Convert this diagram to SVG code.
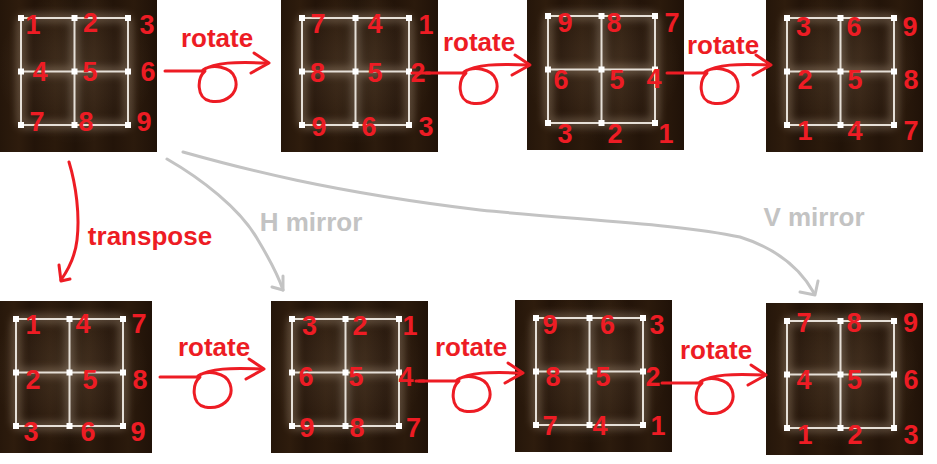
<svg xmlns="http://www.w3.org/2000/svg" xmlns:xlink="http://www.w3.org/1999/xlink" width="937" height="464" viewBox="0 0 937 464">
<style>
.num{font-family:"Liberation Sans",Arial,sans-serif;font-weight:bold;font-size:27px;fill:#ed1c24;text-anchor:middle}
.lbl{font-family:"Liberation Sans",Arial,sans-serif;font-weight:bold;font-size:26px;text-anchor:middle}
.red{fill:#ed1c24}
.gray{fill:#c3c3c3}
.rc{fill:none;stroke:#ed1c24;stroke-width:3;stroke-linecap:round;stroke-linejoin:round}
.gc{fill:none;stroke:#c3c3c3;stroke-width:3;stroke-linecap:round;stroke-linejoin:round}
</style>
<defs>
<linearGradient id="wood" x1="0" y1="0" x2="1" y2="0">
<stop offset="0" stop-color="#25160a"/>
<stop offset="0.12" stop-color="#2e1c0d"/>
<stop offset="0.22" stop-color="#231409"/>
<stop offset="0.35" stop-color="#2a190b"/>
<stop offset="0.48" stop-color="#211308"/>
<stop offset="0.6" stop-color="#2c1b0d"/>
<stop offset="0.72" stop-color="#231409"/>
<stop offset="0.85" stop-color="#2b1a0c"/>
<stop offset="1" stop-color="#201208"/>
</linearGradient>
<radialGradient id="halo" cx="0.48" cy="0.45" r="0.5">
<stop offset="0" stop-color="#ffdcb8" stop-opacity="0.12"/>
<stop offset="0.6" stop-color="#ffdcb8" stop-opacity="0.05"/>
<stop offset="1" stop-color="#ffdcb8" stop-opacity="0"/>
</radialGradient>
<filter id="blur" x="-30%" y="-30%" width="160%" height="160%">
<feGaussianBlur stdDeviation="4"/>
</filter>
<g id="tileArt">
<rect width="157" height="152" fill="url(#wood)"/>
<rect width="157" height="152" fill="url(#halo)"/>
<path d="M21,18H128M21,71.5H128M21,125H128M21,18V125M74.5,18V125M128,18V125" fill="none" stroke="#ffe8cc" stroke-width="7" opacity="0.3" filter="url(#blur)"/>
<path d="M21,18H128M21,71.5H128M21,125H128M21,18V125M74.5,18V125M128,18V125" fill="none" stroke="#e6e0d8" stroke-width="2"/>
<g fill="#ffffff">
<rect x="18" y="15" width="6" height="6"/><rect x="71.5" y="15" width="6" height="6"/><rect x="125" y="15" width="6" height="6"/>
<rect x="18" y="68.5" width="6" height="6"/><rect x="71.5" y="68.5" width="6" height="6"/><rect x="125" y="68.5" width="6" height="6"/>
<rect x="18" y="122" width="6" height="6"/><rect x="71.5" y="122" width="6" height="6"/><rect x="125" y="122" width="6" height="6"/>
</g>
</g>
<g id="rotLoop">
<path class="rc" d="M-105,8 H-65 C-73,15 -74,35 -60,38 C-44,41 -30,30 -35,15 C-39,3 -58,1 -67,7 C-55,-1 -35,-1 -2,0"/>
<path class="rc" d="M-16,-10 L-1,0 L-19,10"/>
</g>
</defs>

<g id="tile-r1">
<use xlink:href="#tileArt" transform="translate(0,0)"/>
<text class="num" x="33" y="34">1</text><text class="num" x="90.5" y="32">2</text><text class="num" x="147" y="34">3</text>
<text class="num" x="40" y="81">4</text><text class="num" x="90" y="81">5</text><text class="num" x="148" y="81">6</text>
<text class="num" x="37" y="131">7</text><text class="num" x="86" y="131">8</text><text class="num" x="144" y="131">9</text>
</g>
<g id="tile-r2">
<use xlink:href="#tileArt" transform="translate(281,0)"/>
<text class="num" x="318" y="33">7</text><text class="num" x="375" y="33">4</text><text class="num" x="426" y="34">1</text>
<text class="num" x="317.5" y="82">8</text><text class="num" x="375" y="82">5</text><text class="num" x="418" y="82">2</text>
<text class="num" x="319" y="136">9</text><text class="num" x="369" y="136">6</text><text class="num" x="426" y="136">3</text>
</g>
<g id="tile-r3">
<use xlink:href="#tileArt" transform="translate(527,-2)"/>
<text class="num" x="565" y="32">9</text><text class="num" x="614" y="32">8</text><text class="num" x="672" y="32">7</text>
<text class="num" x="561" y="89">6</text><text class="num" x="617" y="89">5</text><text class="num" x="654" y="88">4</text>
<text class="num" x="565" y="143">3</text><text class="num" x="615" y="143">2</text><text class="num" x="666" y="143">1</text>
</g>
<g id="tile-r4">
<use xlink:href="#tileArt" transform="translate(766,0)"/>
<text class="num" x="803.5" y="36">3</text><text class="num" x="854" y="36">6</text><text class="num" x="910" y="36">9</text>
<text class="num" x="805" y="89">2</text><text class="num" x="855" y="89">5</text><text class="num" x="911" y="89">8</text>
<text class="num" x="805" y="140">1</text><text class="num" x="855" y="140">4</text><text class="num" x="911" y="140">7</text>
</g>
<g id="tile-t1">
<use xlink:href="#tileArt" transform="translate(-5,301)"/>
<text class="num" x="33" y="334">1</text><text class="num" x="83" y="333">4</text><text class="num" x="139" y="333">7</text>
<text class="num" x="33" y="389">2</text><text class="num" x="90" y="389">5</text><text class="num" x="140" y="389">8</text>
<text class="num" x="31" y="441">3</text><text class="num" x="88" y="441">6</text><text class="num" x="138" y="441">9</text>
</g>
<g id="tile-t2">
<use xlink:href="#tileArt" transform="translate(271,301)"/>
<text class="num" x="309.5" y="335">3</text><text class="num" x="360" y="335">2</text><text class="num" x="410" y="335">1</text>
<text class="num" x="306" y="386">6</text><text class="num" x="356" y="386">5</text><text class="num" x="406" y="386">4</text>
<text class="num" x="307" y="437">9</text><text class="num" x="357" y="437">8</text><text class="num" x="413.5" y="437">7</text>
</g>
<g id="tile-t3">
<use xlink:href="#tileArt" transform="translate(515,300)"/>
<text class="num" x="550" y="334">9</text><text class="num" x="607.5" y="334">6</text><text class="num" x="657" y="334">3</text>
<text class="num" x="553" y="386">8</text><text class="num" x="603" y="386">5</text><text class="num" x="653" y="386">2</text>
<text class="num" x="550" y="435">7</text><text class="num" x="600" y="435">4</text><text class="num" x="658" y="435">1</text>
</g>
<g id="tile-t4">
<use xlink:href="#tileArt" transform="translate(766,303)"/>
<text class="num" x="804" y="332">7</text><text class="num" x="854" y="332">8</text><text class="num" x="910.5" y="332">9</text>
<text class="num" x="804" y="389">4</text><text class="num" x="854.5" y="389">5</text><text class="num" x="911" y="389">6</text>
<text class="num" x="805" y="444">1</text><text class="num" x="855" y="444">2</text><text class="num" x="911" y="444">3</text>
</g>

<g id="connectors">
<use xlink:href="#rotLoop" transform="translate(270,63)"/>
<line class="rc" x1="412" y1="73" x2="430" y2="73"/>
<use xlink:href="#rotLoop" transform="translate(531,65)"/>
<use xlink:href="#rotLoop" transform="translate(772,65)"/>
<use xlink:href="#rotLoop" transform="translate(265,369)"/>
<line class="rc" x1="416" y1="381" x2="424" y2="381"/>
<use xlink:href="#rotLoop" transform="translate(524,373)"/>
<use xlink:href="#rotLoop" transform="translate(767,375)"/>
<path class="rc" d="M69,162 C76,185 80,215 77,240 C75,258 68,270 61,280"/>
<path class="rc" d="M59,265 L61,281 L70,279"/>
<path class="gc" d="M167,159 C200,178 240,208 258,240 C270,260 278,275 283,290"/>
<path class="gc" d="M283,276 L283,290 L272,287"/>
<path class="gc" d="M183,152 C240,168 330,192 480,210 C580,220 680,224 740,237 C775,248 800,268 814,293"/>
<path class="gc" d="M818,281 L815,295 L800,292"/>
<text class="lbl red" x="217" y="47">rotate</text>
<text class="lbl red" x="479" y="51">rotate</text>
<text class="lbl red" x="723" y="54">rotate</text>
<text class="lbl red" x="214" y="356">rotate</text>
<text class="lbl red" x="471" y="356">rotate</text>
<text class="lbl red" x="716" y="359">rotate</text>
<text class="lbl red" x="150" y="245">transpose</text>
<text class="lbl gray" x="311" y="231">H mirror</text>
<text class="lbl gray" x="814" y="226">V mirror</text>
</g>
</svg>
